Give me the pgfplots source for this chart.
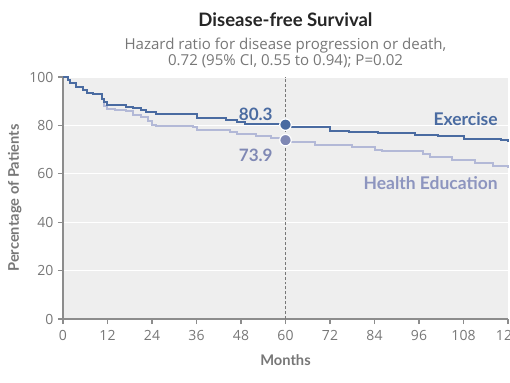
\documentclass[border=0pt]{standalone}
\usepackage{pgfplots}
\pgfplotsset{compat=1.18}
\usepackage{fontspec}
\setmainfont{Open Sans}
\newfontfamily\lato{Lato}
\usetikzlibrary{calc}
\definecolor{bgc}{HTML}{EEEEEE}
\definecolor{exc}{HTML}{4A6BA1}
\definecolor{hec}{HTML}{B3B9D7}
\definecolor{hetxt}{HTML}{8D95BF}
\definecolor{hedot}{HTML}{7F88B4}
\definecolor{axc}{HTML}{8C8C8C}
\definecolor{txc}{HTML}{777777}
\begin{document}
\begin{tikzpicture}
\begin{axis}[
  name=ax,
  scale only axis,
  width=333.75pt, height=181.5pt,
  xmin=0, xmax=120, ymin=0, ymax=100,
  axis background/.style={fill=bgc},
  axis x line*=bottom, axis y line*=left,
  axis line style={draw=axc, line width=0.9pt},
  every tick/.style={draw=axc, line width=0.9pt},
  tick align=outside, major tick length=3.75pt,
  xtick={0,12,...,120}, ytick={0,20,...,100},
  ymajorgrids, grid style={draw=white, line width=1pt},
  tick label style={font=\fontsize{10.5pt}{12pt}\selectfont, text=txc},
  xticklabel style={yshift=-1.5pt},
  /pgf/number format/assume math mode=true,
  xlabel={\lato\bfseries Months},
  ylabel={\lato\bfseries Percentage of Patients},
  label style={font=\fontsize{11pt}{13pt}\selectfont, text=txc},
  xlabel style={yshift=-3.5pt},
  ylabel style={yshift=-1pt},
  clip=false,
]
\draw[draw=txc, line width=0.7pt, dash pattern=on 2.2pt off 1.5pt] (axis cs:60,0) -- (axis cs:60,100);
% Health Education
\addplot[const plot, draw=hec, line width=1.5pt] coordinates {
(0,100) (1.3,98.8) (2,97.5) (3.5,96) (5.5,94.5) (6.5,93.5) (8,93) (10.5,91)
(11,88) (12,86.8) (14,86.3) (17,85.8) (19,84.5) (21,83.5) (23,81.7) (24,80.3)
(25,79.8) (35,79.2) (36,78) (45,77.3) (47,76.3) (52,75.5) (56,74.8) (60,73.9)
(61,73.2) (68,71.8) (78,71) (84,70) (86,69.3) (97,68.3) (99,66.8) (105,65.5)
(111,64.3) (116,63.2) (120,62.5)};
% Exercise
\addplot[const plot, draw=exc, line width=1.5pt] coordinates {
(0,100) (1.3,98.8) (2,97.5) (3.5,96) (5.5,94.5) (6.5,93.5) (8,93) (10.5,91)
(11,89.5) (12,88.6) (17,87.8) (19,87.2) (21,86.3) (22.5,85.6) (25,84.6)
(36,83.2) (44,82.4) (47,81.3) (49,80.4) (60,80.3) (61,79.5) (72,77.8)
(77,77.3) (85,76.8) (95,76.2) (101,75.5) (108,74.5) (118,73.8) (120,73.3)};
\addplot[only marks, mark=*, mark size=4.3pt, mark options={fill=exc, draw=white, line width=0.9pt}] coordinates {(60,80.3)};
\addplot[only marks, mark=*, mark size=4.3pt, mark options={fill=hedot, draw=white, line width=0.9pt}] coordinates {(60,73.9)};
\node[anchor=east, text=exc, font=\fontsize{12.8pt}{14pt}\selectfont\lato\bfseries] at (axis cs:57.8,84.6) {80.3};
\node[anchor=east, text=hedot, font=\fontsize{12.8pt}{14pt}\selectfont\lato\bfseries] at (axis cs:57.8,67.6) {73.9};
\node[anchor=east, text=exc, font=\fontsize{13.1pt}{15pt}\selectfont\lato\bfseries] at (axis cs:118.5,82.8) {Exercise};
\node[anchor=east, text=hetxt, font=\fontsize{13.1pt}{15pt}\selectfont\lato\bfseries] at (axis cs:118.5,56) {Health Education};
\node[font=\fontsize{13.9pt}{16pt}\selectfont\lato\bfseries, text=black!85] at ($(axis cs:60,100)+(0,42.75pt)$) {Disease-free Survival};
\node[font=\fontsize{11.3pt}{12pt}\selectfont, text=txc, align=center] at ($(axis cs:60,100)+(0,18pt)$) {Hazard ratio for disease progression or death,\\0.72 (95\% CI, 0.55 to 0.94); P=0.02};
\end{axis}
\pgfresetboundingbox
\path[use as bounding box] ($(ax.south west)+(-47.25pt,-47.25pt)$) rectangle ($(ax.north east)+(1.5pt,57.75pt)$);
\end{tikzpicture}
\end{document}
